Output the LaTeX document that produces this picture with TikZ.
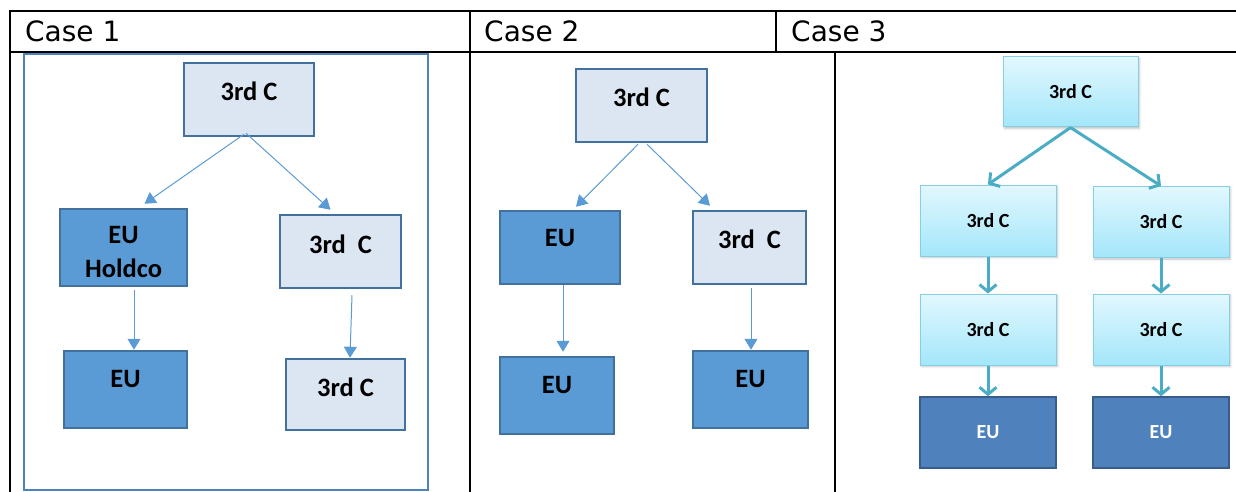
\documentclass[tikz,border=0pt]{standalone}
\usepackage{xcolor}
\usepackage{fontspec}
\setmainfont{DejaVu Sans}
\newfontfamily\boxfont{Carlito}
\usepackage{tikz}
\usetikzlibrary{shadows.blur,arrows.meta,calc}
\definecolor{paleblue}{HTML}{DCE6F2}
\definecolor{midblue}{HTML}{5B9BD5}
\definecolor{edgeblue}{HTML}{41719C}
\definecolor{frameblue}{HTML}{4F81BD}
\definecolor{aquatop}{HTML}{E2F8FE}
\definecolor{aquabot}{HTML}{A3E6FA}
\definecolor{aquaedge}{HTML}{86CFE3}
\definecolor{tealline}{HTML}{4BACC6}
\definecolor{navy}{HTML}{4F81BD}
\definecolor{navyedge}{HTML}{385D8A}

\begin{document}
\begin{tikzpicture}[x=1pt, y=-1pt, every node/.style={inner sep=0pt},
    head/.style={anchor=base west, font=\fontsize{28}{34}\selectfont},
    lbl/.style={font=\boxfont\bfseries\fontsize{26.5}{30}\selectfont, align=center},
    litebox/.style={draw=edgeblue, line width=2.5pt, fill=paleblue},
    darkbox/.style={draw=edgeblue, line width=2.5pt, fill=midblue},
    aquabox/.style={draw=aquaedge, line width=1pt, top color=aquatop, bottom color=aquabot,
      minimum width=136pt, minimum height=71pt, font=\boxfont\bfseries\fontsize{20}{24}\selectfont,
      blur shadow={shadow xshift=1.5pt, shadow yshift=-1.5pt, shadow opacity=25, shadow blur steps=4}},
    navybox/.style={draw=navyedge, line width=1.5pt, fill=navy, text=white,
      minimum width=136pt, minimum height=71pt, font=\boxfont\bfseries\fontsize{20}{24}\selectfont},
    thinarrow/.style={-{Triangle[length=11pt, width=13pt]}, draw=midblue, line width=1pt},
    thickarrow/.style={-{Straight Barb[length=7pt, width=17pt]}, draw=tealline, line width=3pt}]
  \useasboundingbox (0,0) rectangle (1236,492);

  \draw[line width=2pt] (10,492) -- (10,11) -- (1236,11) (10,52) -- (1236,52)
    (470,11) -- (470,492) (776,11) -- (776,52) (835,52) -- (835,492);
  \node[head] (h1) at (25,41.5) {Case 1};
  \node[head] (h2) at (484,41.5) {Case 2};
  \node[head] (h3) at (791,41.5) {Case 3};

  \draw[frameblue, line width=1.5pt] (24,54) rectangle (428,490);
  \node[litebox, minimum width=130pt, minimum height=73pt, label={[lbl, yshift=8pt]center:3rd C}] (topA) at (249,99.5) {};
  \node[darkbox, minimum width=127pt, minimum height=77pt, label={[lbl, yshift=-5pt]center:EU\\[4pt]Holdco}] (holdA) at (123.5,247.5) {};
  \node[litebox, minimum width=121pt, minimum height=73pt, label={[lbl, yshift=7.5pt]center:3rd~ C}] (rightA) at (340.5,251.5) {};
  \node[darkbox, minimum width=123pt, minimum height=77pt, label={[lbl, yshift=10pt]center:EU}] (euA) at (125.5,389.5) {};
  \node[litebox, minimum width=119pt, minimum height=71pt, label={[lbl, yshift=7pt]center:3rd C}] (botA) at (345.5,394.5) {};
  \draw[thinarrow] ([xshift=-5pt, yshift=3pt]topA.south) -- ([xshift=21pt, yshift=4pt]holdA.north);
  \draw[thinarrow] ([xshift=-3pt, yshift=4pt]topA.south) -- ([xshift=-10pt, yshift=4pt]rightA.north);
  \draw[thinarrow] ([xshift=10.5pt, yshift=-3pt]holdA.south) -- ([xshift=8.5pt]euA.north);
  \draw[thinarrow] ([xshift=11.5pt, yshift=-6pt]rightA.south) -- ([xshift=4.5pt]botA.north);

  \node[litebox, minimum width=131pt, minimum height=73pt, label={[lbl, yshift=8.5pt]center:3rd C}] (topB) at (641.5,105.5) {};
  \node[darkbox, minimum width=120pt, minimum height=73pt, label={[lbl, yshift=9.5pt]center:EU}] (euB1) at (560,247.5) {};
  \node[litebox, minimum width=113pt, minimum height=73pt, label={[lbl, yshift=8pt]center:3rd~ C}] (rightB) at (749.5,247.5) {};
  \node[darkbox, minimum width=114pt, minimum height=77pt, label={[lbl, yshift=10.5pt]center:EU}] (euB2) at (557,395.5) {};
  \node[darkbox, minimum width=115pt, minimum height=77pt, label={[lbl, yshift=10pt]center:EU}] (euB3) at (750.5,389.5) {};
  \draw[thinarrow] ([xshift=-3.5pt, yshift=-1pt]topB.south) -- ([xshift=16pt, yshift=3pt]euB1.north);
  \draw[thinarrow] ([xshift=5.5pt, yshift=-1pt]topB.south) -- ([xshift=-39.5pt, yshift=4pt]rightB.north);
  \draw[thinarrow] ([xshift=3pt]euB1.south) -- ([xshift=6pt, yshift=4pt]euB2.north);
  \draw[thinarrow] ([xshift=1.5pt, yshift=-3pt]rightB.south) -- ([xshift=0.5pt]euB3.north);

  \node[aquabox, minimum width=135pt, minimum height=70pt] (topC) at (1070.5,92) {3rd C};
  \node[aquabox] (midL) at (988,220.5) {3rd C};
  \node[aquabox] (midR) at (1161,222) {3rd C};
  \node[aquabox] (lowL) at (988,329.5) {3rd C};
  \node[aquabox] (lowR) at (1161,329.5) {3rd C};
  \node[navybox] (euL) at (988,432.5) {EU};
  \node[navybox] (euR) at (1161,432.5) {EU};
  \draw[thickarrow] (topC.south) -- (midL.north);
  \draw[thickarrow] (topC.south) -- (midR.north);
  \draw[thickarrow] (midL) -- (lowL);
  \draw[thickarrow] (midR) -- (lowR);
  \draw[thickarrow] (lowL) -- (euL);
  \draw[thickarrow] (lowR) -- (euR);
\end{tikzpicture}
\end{document}
